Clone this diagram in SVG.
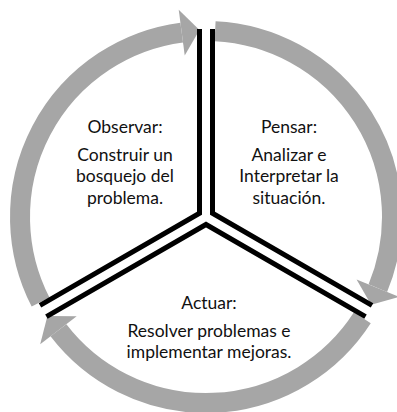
<svg xmlns="http://www.w3.org/2000/svg" width="397" height="412" viewBox="0 0 397 412">
  <style>
    .arc { fill: none; stroke: #a6a6a6; stroke-width: 20; stroke-linecap: butt; }
    .head { fill: #a6a6a6; stroke: none; }
    .div { fill: none; stroke: #000; stroke-width: 5; stroke-linejoin: miter; stroke-linecap: butt; }
    text { font-family: Lato, "Open Sans", "Liberation Sans", sans-serif; font-size: 17.5px; fill: #111; text-anchor: middle; }
  </style>
  <rect width="397" height="412" fill="#fff"/>
  <g id="connectors">
    <path class="arc" d="M40.57,302.02 A186,186 0 0 1 181.72,32.60"/>
    <polygon class="head" points="178.73,9.80 199.47,30.11 184.73,55.40"/>
    <path class="arc" d="M215.09,31.22 A186,186 0 0 1 377.84,288.18"/>
    <polygon class="head" points="399.09,296.98 371.11,304.79 356.59,279.38"/>
    <path class="arc" d="M362.35,317.76 A186,186 0 0 1 58.44,330.23"/>
    <polygon class="head" points="40.19,344.23 47.41,316.09 76.68,316.23"/>
  </g>
  <g id="dividers">
    <polyline class="div" points="199.5,29 199.5,213.25 40,305.4"/>
    <polyline class="div" points="212.5,29 212.5,213.25 372,305.4"/>
    <polyline class="div" points="46.4,316.6 206,224.5 365.5,316.6"/>
  </g>
  <g id="observar">
    <text x="125" y="133">Observar:</text>
    <text x="125" y="160.5">Construir un</text>
    <text x="125" y="182">bosquejo del</text>
    <text x="125" y="203.5">problema.</text>
  </g>
  <g id="pensar">
    <text x="289" y="133">Pensar:</text>
    <text x="289" y="160.5">Analizar e</text>
    <text x="289" y="182">Interpretar la</text>
    <text x="289" y="203.5">situación.</text>
  </g>
  <g id="actuar">
    <text x="209" y="308.5">Actuar:</text>
    <text x="209" y="336.5">Resolver problemas e</text>
    <text x="209" y="358">implementar mejoras.</text>
  </g>
</svg>
